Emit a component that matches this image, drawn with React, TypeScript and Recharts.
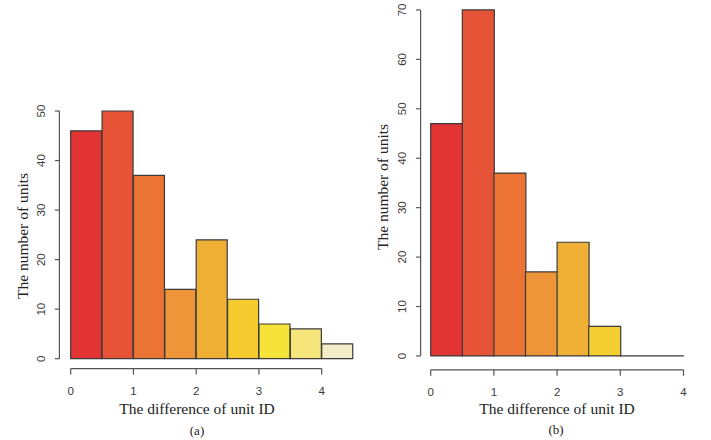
import React from 'react';
import { BarChart, Bar, XAxis, YAxis, Cell, ReferenceLine } from 'recharts';

// ---- Data: panel (a) ----
const binEdgesA = [0, 0.5, 1, 1.5, 2, 2.5, 3, 3.5, 4, 4.5];
const countsA = [46, 50, 37, 14, 24, 12, 7, 6, 3];
const colorsA = ['#E33434', '#E65337', '#EB7435', '#EE953A', '#F0AF35', '#F6CB30', '#F6E33A', '#F6E57A', '#F3EEC8'];
const yTicksA = [0, 10, 20, 30, 40, 50];

// ---- Data: panel (b) ----
const binEdgesB = [0, 0.5, 1, 1.5, 2, 2.5, 3, 3.5, 4];
const countsB = [47, 70, 37, 17, 23, 6, 0, 0];
const colorsB = ['#E33434', '#E65337', '#EB7435', '#EE953A', '#F0AF35', '#F5CE32', '#F6E33A', '#F6E57A'];
const yTicksB = [0, 10, 20, 30, 40, 50, 60, 70];

const xTicks = [0, 1, 2, 3, 4];
const xTitle = 'The difference of unit ID';
const yTitle = 'The number of units';

const SANS = '"Liberation Sans", Arial, Helvetica, sans-serif';
const SERIF = '"Liberation Serif", "Times New Roman", Times, serif';
const AXIS_COLOR = '#555';
const TICK_FONT = 11.5;

const buildTable = (edges: number[], counts: number[]) =>
  counts.map((c, i) => ({ mid: (edges[i] + edges[i + 1]) / 2, count: c }));

const HistRect = (props: any) => {
  const { x, y, width, height, fill } = props;
  if (x == null || y == null || width == null || height == null) return null;
  const d = `M${x},${y + height} L${x},${y} L${x + width},${y} L${x + width},${y + height} Z`;
  return <path d={d} fill={fill} stroke="#3a3a3a" strokeWidth={1.2} />;
};

const YTick = (props: any) => {
  const { x, y, payload } = props;
  return (
    <text
      x={x}
      y={y}
      transform={`rotate(-90 ${x} ${y})`}
      textAnchor="middle"
      fontSize={TICK_FONT}
      fontFamily={SANS}
      fill="#3a3a3a"
    >
      {payload.value}
    </text>
  );
};

type HistProps = {
  edges: number[];
  counts: number[];
  colors: string[];
  yTicks: number[];
  xDomain: [number, number];
  yDomain: [number, number];
  width: number;
  height: number;
  margin: { top: number; right: number; bottom: number; left: number };
  style: React.CSSProperties;
};

const Histogram = ({ edges, counts, colors, yTicks, xDomain, yDomain, width, height, margin, style }: HistProps) => {
  const data = buildTable(edges, counts);
  return (
    <div style={style}>
      <BarChart width={width} height={height} data={data} margin={margin} barCategoryGap={0} barGap={0}>
        <XAxis
          type="number"
          dataKey="mid"
          domain={xDomain}
          ticks={xTicks}
          allowDataOverflow
          axisLine={false}
          tickLine={{ stroke: AXIS_COLOR, strokeWidth: 1.2 }}
          tickSize={6}
          tickMargin={12}
          height={30}
          tick={{ fontSize: TICK_FONT, fill: '#3a3a3a', fontFamily: SANS }}
        />
        <YAxis
          type="number"
          domain={yDomain}
          ticks={yTicks}
          allowDataOverflow
          axisLine={false}
          tickLine={{ stroke: AXIS_COLOR, strokeWidth: 1.2 }}
          tickSize={4.5}
          tickMargin={9.8}
          width={40}
          tick={<YTick />}
        />
        <ReferenceLine
          segment={[{ x: xDomain[0], y: yTicks[0] }, { x: xDomain[0], y: yTicks[yTicks.length - 1] }]}
          stroke={AXIS_COLOR}
          strokeWidth={1.2}
          ifOverflow="visible"
        />
        <ReferenceLine
          segment={[{ x: xTicks[0], y: yDomain[0] }, { x: xTicks[xTicks.length - 1], y: yDomain[0] }]}
          stroke={AXIS_COLOR}
          strokeWidth={1.2}
          ifOverflow="visible"
        />
        <Bar
          dataKey="count"
          isAnimationActive={false}
          shape={(p: any) => <HistRect {...p} fill={colors[p.index]} />}
        >
          {data.map((_, i) => (
            <Cell key={i} fill={colors[i]} />
          ))}
        </Bar>
      </BarChart>
    </div>
  );
};

export default function App() {
  return (
    <div style={{ position: 'absolute', left: 0, top: 0, width: 711, height: 440, background: '#fff', overflow: 'hidden' }}>
      <Histogram
        edges={binEdgesA}
        counts={countsA}
        colors={colorsA}
        yTicks={yTicksA}
        xDomain={[-0.18, 4.68]}
        yDomain={[-2, 52]}
        width={375}
        height={440}
        margin={{ top: 101.1, right: 10.6, bottom: 41.4, left: 19.4 }}
        style={{ position: 'absolute', left: 0, top: 0 }}
      />
      <Histogram
        edges={binEdgesB}
        counts={countsB}
        colors={colorsB}
        yTicks={yTicksB}
        xDomain={[-0.16, 4.16]}
        yDomain={[-2.8, 72.8]}
        width={350}
        height={450}
        margin={{ top: 6.1, right: 16.4, bottom: 40.2, left: 20.6 }}
        style={{ position: 'absolute', left: 360, top: -10 }}
      />
      <svg width={711} height={440} style={{ position: 'absolute', left: 0, top: 0, pointerEvents: 'none' }}>
        <g fontFamily={SERIF} fill="#222">
          <text x={197} y={413.5} fontSize={15.5} textAnchor="middle">{xTitle}</text>
          <text x={197} y={435} fontSize={13} textAnchor="middle">(a)</text>
          <text x={28} y={236} fontSize={15.5} textAnchor="middle" transform="rotate(-90 28 236)">{yTitle}</text>
          <text x={557} y={413.5} fontSize={15.5} textAnchor="middle">{xTitle}</text>
          <text x={556} y={434} fontSize={13} textAnchor="middle">(b)</text>
          <text x={388} y={187} fontSize={15.5} textAnchor="middle" transform="rotate(-90 388 187)">{yTitle}</text>
        </g>
      </svg>
    </div>
  );
}
